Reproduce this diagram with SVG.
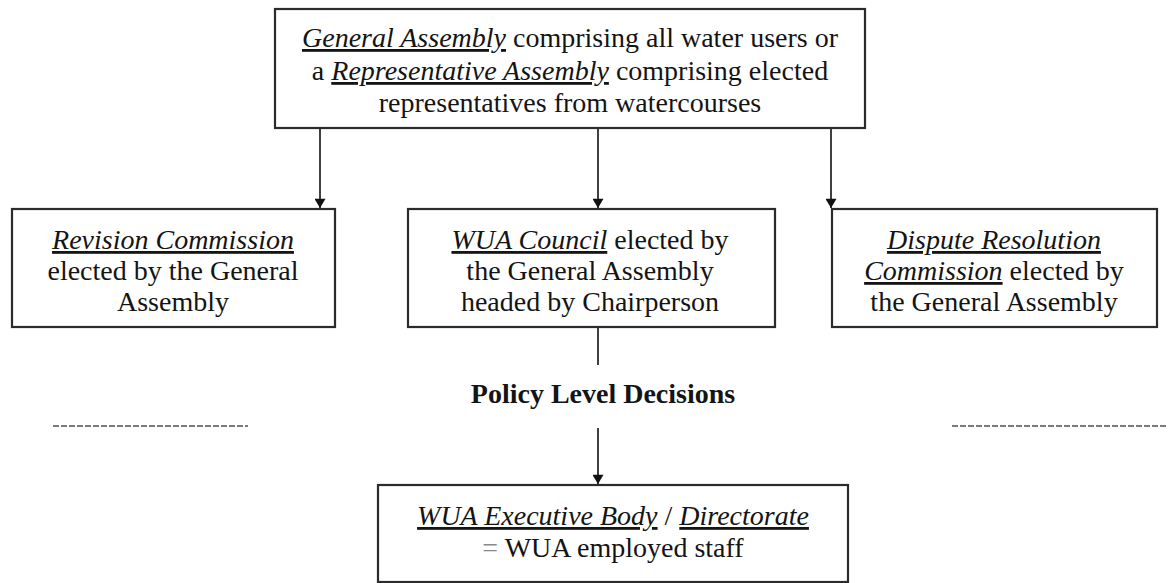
<svg xmlns="http://www.w3.org/2000/svg" width="1173" height="583" viewBox="0 0 1173 583">
  <style>
    .box { fill: #ffffff; stroke: #2b2b2b; stroke-width: 2.2; }
    .txt { font-family: "Liberation Serif", "Times New Roman", serif; font-size: 28px; fill: #141414; text-anchor: middle; }
    .em { font-style: italic; text-decoration: underline; }
    .bold { font-weight: bold; }
    .wire { stroke: #111111; stroke-width: 1.6; fill: none; }
    .rule { stroke: #7a7a7a; stroke-width: 2; stroke-dasharray: 6 2; fill: none; }
  </style>
  <defs>
    <marker id="arrow" viewBox="0 0 10 12" refX="10" refY="6" markerWidth="12" markerHeight="11" markerUnits="userSpaceOnUse" orient="auto">
      <path d="M0,0 L10,6 L0,12 Z" fill="#111111"/>
    </marker>
  </defs>
  <rect width="1173" height="583" fill="#ffffff"/>

  <!-- connectors -->
  <g id="connectors">
    <line class="wire" x1="320" y1="128" x2="320" y2="208" marker-end="url(#arrow)"/>
    <line class="wire" x1="598" y1="128" x2="598" y2="208" marker-end="url(#arrow)"/>
    <line class="wire" x1="831" y1="128" x2="831" y2="208" marker-end="url(#arrow)"/>
    <line class="wire" x1="598" y1="327" x2="598" y2="365"/>
    <line class="wire" x1="598" y1="428" x2="598" y2="484" marker-end="url(#arrow)"/>
  </g>

  <!-- assembly -->
  <g id="assembly">
    <rect class="box" x="275" y="9" width="590" height="119"/>
    <text class="txt" x="570" y="47"><tspan class="em">General Assembly</tspan> comprising all water users or</text>
    <text class="txt" x="570" y="80">a <tspan class="em">Representative Assembly</tspan> comprising elected</text>
    <text class="txt" x="570" y="112">representatives from watercourses</text>
  </g>

  <!-- revision commission -->
  <g id="revision">
    <rect class="box" x="12" y="209" width="323" height="118"/>
    <text class="txt" x="173" y="249"><tspan class="em">Revision Commission</tspan></text>
    <text class="txt" x="173" y="280">elected by the General</text>
    <text class="txt" x="173" y="311">Assembly</text>
  </g>

  <!-- council -->
  <g id="council">
    <rect class="box" x="408" y="209" width="367" height="118"/>
    <text class="txt" x="590" y="249"><tspan class="em">WUA Council</tspan> elected by</text>
    <text class="txt" x="590" y="280">the General Assembly</text>
    <text class="txt" x="590" y="311">headed by Chairperson</text>
  </g>

  <!-- dispute resolution -->
  <g id="dispute">
    <rect class="box" x="832" y="209" width="325" height="118"/>
    <text class="txt" x="994" y="249"><tspan class="em">Dispute Resolution</tspan></text>
    <text class="txt" x="994" y="280"><tspan class="em">Commission</tspan> elected by</text>
    <text class="txt" x="994" y="311">the General Assembly</text>
  </g>

  <!-- decision level divider -->
  <g id="policy">
    <text class="txt bold" x="603" y="403">Policy Level Decisions</text>
    <line class="rule" x1="53" y1="426" x2="248" y2="426"/>
    <line class="rule" x1="952" y1="426" x2="1168" y2="426"/>
  </g>

  <!-- executive body -->
  <g id="executive">
    <rect class="box" x="378" y="485" width="470" height="97"/>
    <text class="txt" x="613" y="525"><tspan class="em">WUA Executive Body</tspan> / <tspan class="em">Directorate</tspan></text>
    <text class="txt" x="613" y="557"><tspan fill="#8a8a8a">=</tspan> WUA employed staff</text>
  </g>
</svg>
